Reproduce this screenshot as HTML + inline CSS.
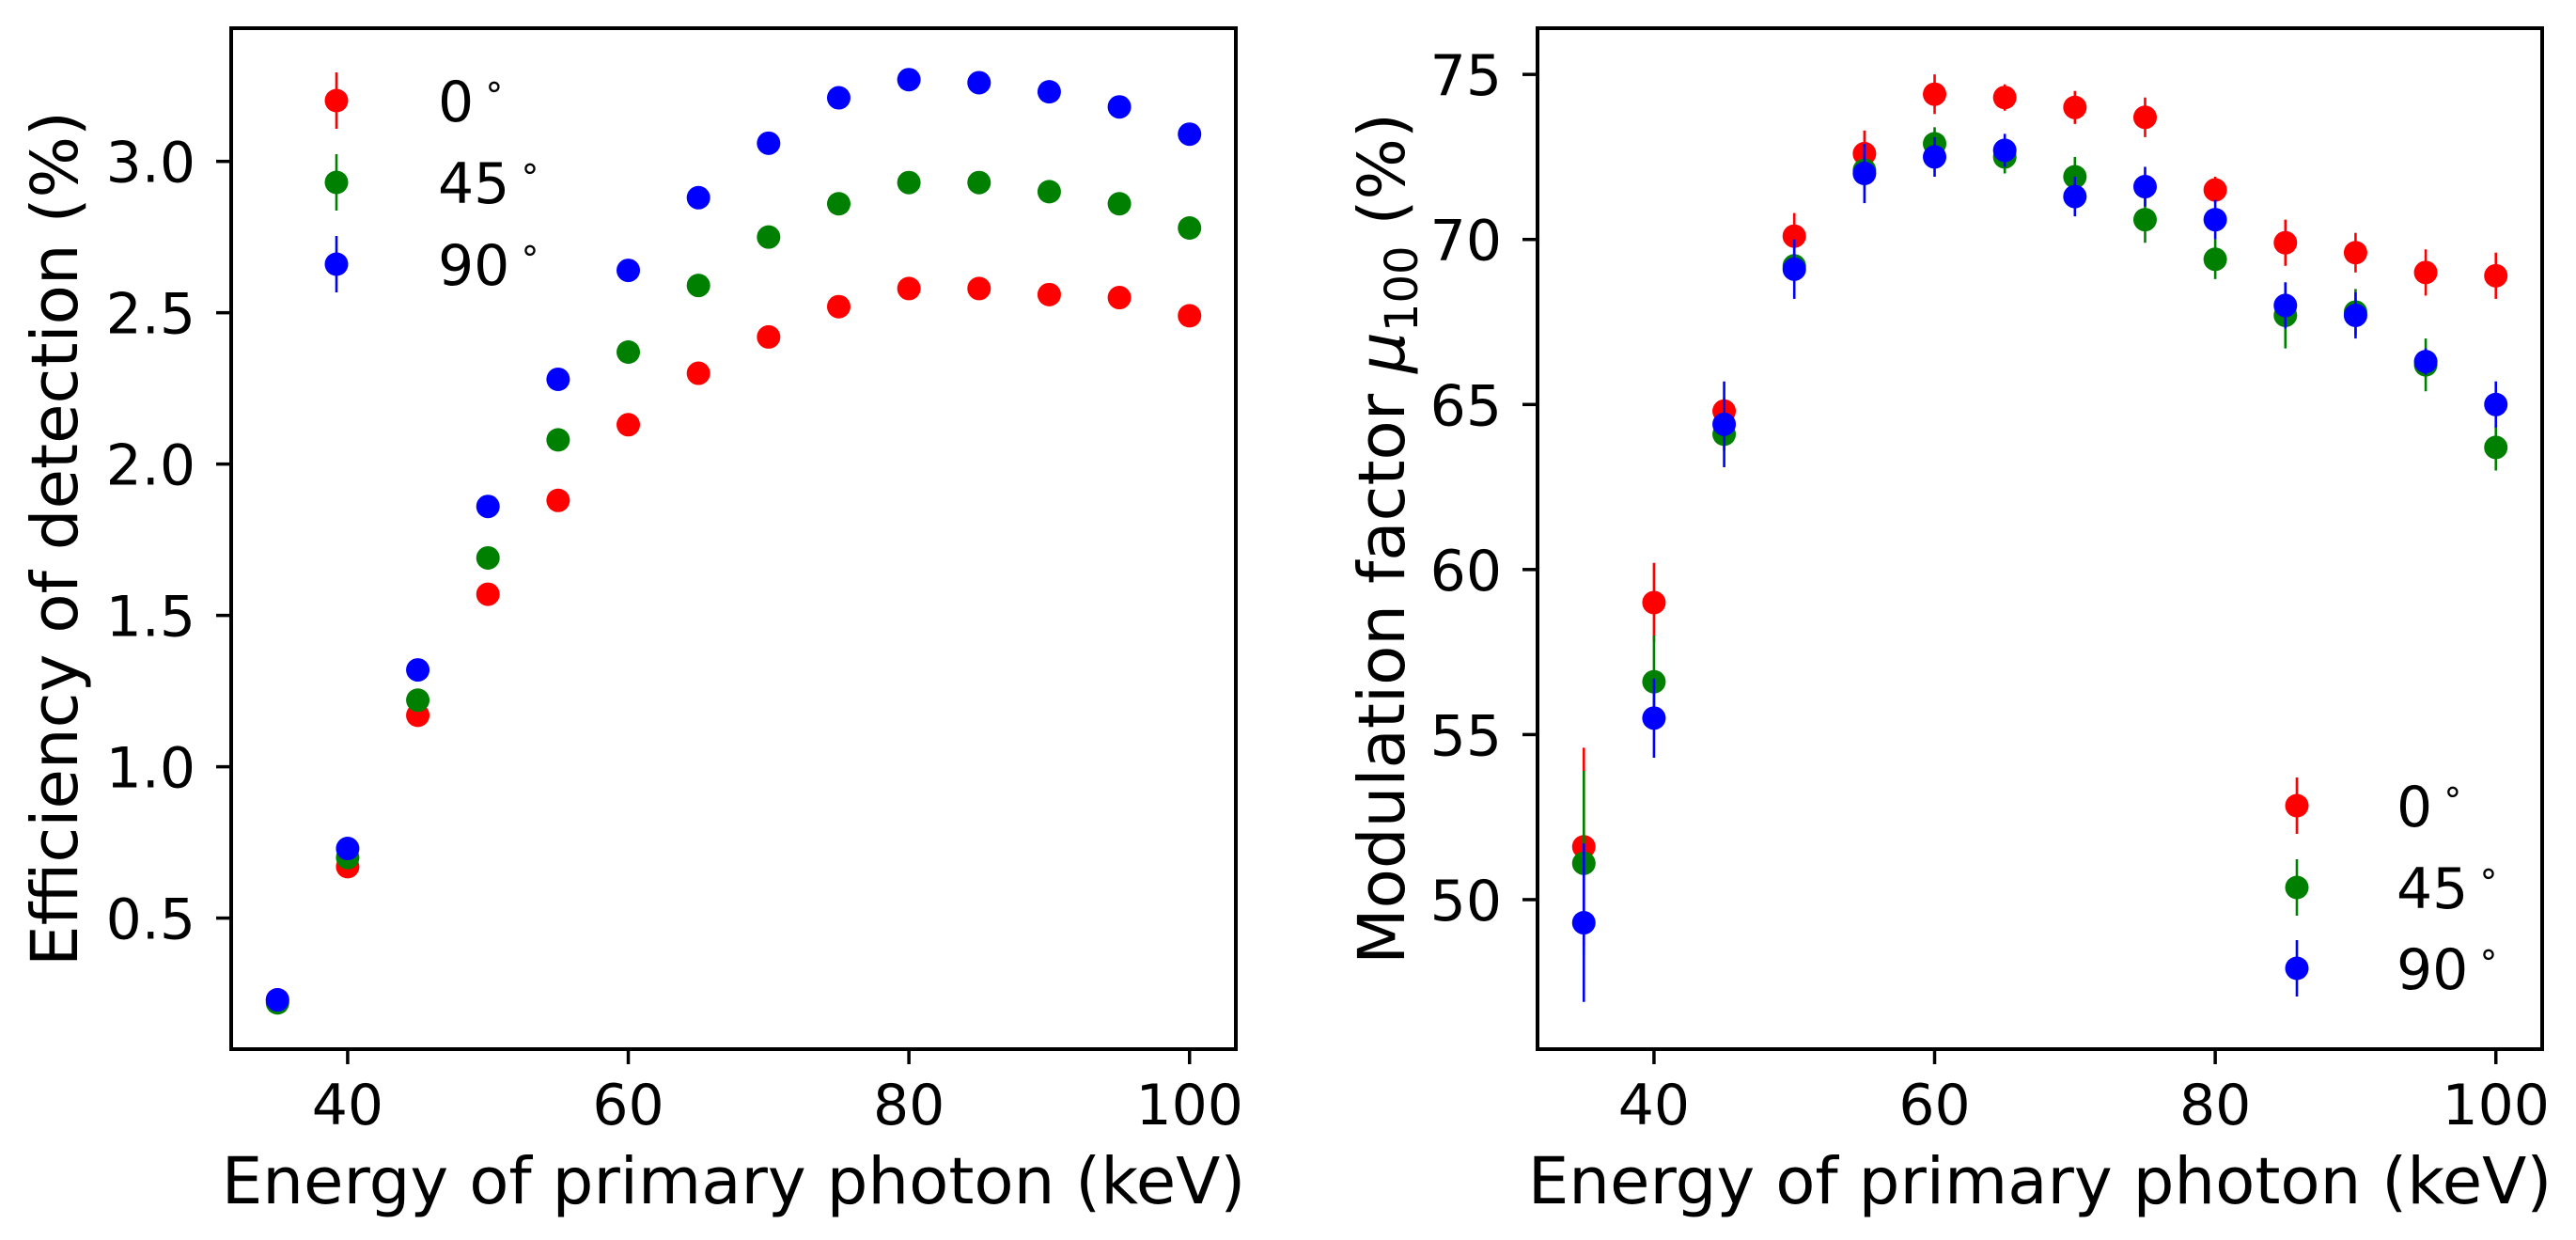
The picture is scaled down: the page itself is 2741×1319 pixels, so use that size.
<!DOCTYPE html>
<html><head><meta charset="utf-8"><style>
html,body{margin:0;padding:0;background:#fff;}
svg{display:block;font-family:"DejaVu Sans","Liberation Sans",sans-serif;}
</style></head><body>
<svg id="fig" width="2741" height="1319" viewBox="0 0 2741 1319" xmlns="http://www.w3.org/2000/svg">
<rect width="2741" height="1319" fill="#fff"/>
<g id="left"></g>
<g id="right"></g>
</svg>
<script>
const energies = [35,40,45,50,55,60,65,70,75,80,85,90,95,100];
const seriesNames = ["0", "45", "90"];
const effRed   = [0.23,0.67,1.17,1.57,1.88,2.13,2.30,2.42,2.52,2.58,2.58,2.56,2.55,2.49];
const effGreen = [0.22,0.70,1.22,1.69,2.08,2.37,2.59,2.75,2.86,2.93,2.93,2.90,2.86,2.78];
const effBlue  = [0.23,0.73,1.32,1.86,2.28,2.64,2.88,3.06,3.21,3.27,3.26,3.23,3.18,3.09];
const modRed   = [51.6,59.0,64.8,70.1,72.6,74.4,74.3,74.0,73.7,71.5,69.9,69.6,69.0,68.9];
const modRedErr= [3.0,1.2,0.4,0.7,0.7,0.6,0.4,0.5,0.6,0.4,0.7,0.6,0.7,0.7];
const modGreen = [51.1,56.6,64.1,69.2,72.1,72.9,72.5,71.9,70.6,69.4,67.7,67.8,66.2,63.7];
const modGreenErr=[2.8,1.4,0.5,0.5,0.5,0.5,0.5,0.6,0.7,0.6,1.0,0.7,0.8,0.7];
const modBlue  = [49.3,55.5,64.4,69.1,72.0,72.5,72.7,71.3,71.6,70.6,68.0,67.7,66.3,65.0];
const modBlueErr=[2.4,1.2,1.3,0.9,0.9,0.6,0.5,0.6,0.6,0.6,0.7,0.7,0.4,0.7];
const xTicks = [40,60,80,100];
const effTicks = [0.5,1.0,1.5,2.0,2.5,3.0];
const effTickLabels = ["0.5","1.0","1.5","2.0","2.5","3.0"];
const modTicks = [50,55,60,65,70,75];
const modTickLabels = ["50","55","60","65","70","75"];

const NS="http://www.w3.org/2000/svg";
function mk(parent,tag,attrs,text){const e=document.createElementNS(NS,tag);for(const k in attrs)e.setAttribute(k,attrs[k]);if(text!==undefined)e.textContent=text;parent.appendChild(e);return e;}
const COLORS=["#ff0000","#008000","#0000ff"];

function drawPanel(g,cfg){
  const {L,R,T,B,xmin,xmax,ymin,ymax}=cfg;
  const sx=v=>L+(v-xmin)/(xmax-xmin)*(R-L);
  const sy=v=>B-(v-ymin)/(ymax-ymin)*(B-T);
  cfg.series.forEach((s,si)=>{
    const sg=mk(g,"g",{});
    
    
    energies.forEach((e,i)=>{
      const v=s.vals[i], er=s.err?s.err[i]:0;
      if(er>0){
        const l=mk(sg,"line",{x1:sx(e),x2:sx(e),y1:sy(v-er),y2:sy(v+er),stroke:COLORS[si],"stroke-width":2.6});
        
        
      }
      const c=mk(sg,"circle",{cx:sx(e),cy:sy(v),r:12.5,fill:COLORS[si]});
      
      
    });
  });
  const fr=mk(g,"rect",{x:L,y:T,width:R-L,height:B-T,fill:"none",stroke:"#000","stroke-width":4});
  
  
  xTicks.forEach(t=>{
    const x=sx(t);
    mk(g,"line",{x1:x,x2:x,y1:B,y2:B+16,stroke:"#000","stroke-width":3.5});
    const tx=mk(g,"text",{x:x,y:1196,"font-size":60,"text-anchor":"middle",fill:"#000"},String(t));
    
    
  });
  cfg.yTicks.forEach((t,i)=>{
    const y=sy(t);
    mk(g,"line",{x1:L-16,x2:L,y1:y,y2:y,stroke:"#000","stroke-width":3.5});
    const tx=mk(g,"text",{x:L-38,y:y+22,"font-size":60,"text-anchor":"end",fill:"#000"},cfg.yLabels[i]);
    
    
  });
  const xl=mk(g,"text",{x:(L+R)/2,y:1280,"font-size":69,"text-anchor":"middle",fill:"#000"},"Energy of primary photon (keV)");
  
  
  const lg=mk(g,"g",{});
  
  
  cfg.legendY.forEach((y,i)=>{
    mk(lg,"line",{x1:cfg.legendX,x2:cfg.legendX,y1:y-30,y2:y+30,stroke:COLORS[i],"stroke-width":2.6});
    mk(lg,"circle",{cx:cfg.legendX,cy:y,r:12.5,fill:COLORS[i]});
    const t=mk(lg,"text",{x:cfg.legendTextX,y:y+22,"font-size":60,fill:"#000"});
    
    
    mk(t,"tspan",{},seriesNames[i]);
    mk(t,"tspan",{dx:10,dy:-25,"font-size":37},"∘");
  });
  return {sx,sy};
}

drawPanel(document.getElementById('left'),{
  L:246,R:1315,T:30,B:1116,xmin:31.7,xmax:103.3,ymin:0.067,ymax:3.44,
  series:[{vals:effRed},{vals:effGreen},{vals:effBlue}],
  yTicks:effTicks,yLabels:effTickLabels,
  legendX:358,legendTextX:466,legendY:[107,194,281]
});
drawPanel(document.getElementById('right'),{
  L:1636,R:2705,T:30,B:1116,xmin:31.7,xmax:103.3,ymin:45.47,ymax:76.4,
  series:[{vals:modRed,err:modRedErr},{vals:modGreen,err:modGreenErr},{vals:modBlue,err:modBlueErr}],
  yTicks:modTicks,yLabels:modTickLabels,
  legendX:2444,legendTextX:2550,legendY:[857,944,1030]
});
const svg=document.getElementById('fig');
const yl1=mk(svg,"text",{transform:"translate(82,573) rotate(-90)","font-size":69,"text-anchor":"middle",fill:"#000"},"Efficiency of detection (%)");


const yl2=mk(svg,"text",{transform:"translate(1494,573) rotate(-90)","font-size":69,"text-anchor":"middle",fill:"#000"});


mk(yl2,"tspan",{},"Modulation factor ");
mk(yl2,"tspan",{"font-style":"italic"},"μ");
mk(yl2,"tspan",{"font-size":48,dy:14},"100");
mk(yl2,"tspan",{dy:-14}," (%)");
</script>
</body></html>
